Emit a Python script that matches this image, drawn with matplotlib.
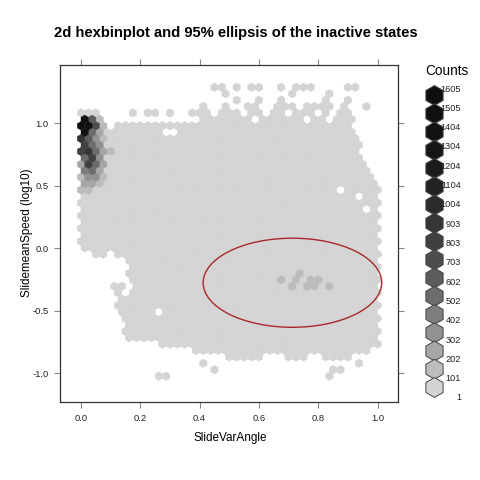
import matplotlib
matplotlib.use('Agg')
import matplotlib.pyplot as plt
import numpy as np
from matplotlib.collections import PolyCollection
from matplotlib.patches import Ellipse

plt.rcParams['font.family'] = ['Liberation Sans', 'DejaVu Sans']

# ---------------- data ----------------
count_breaks = [1, 101, 202, 302, 402, 502, 602, 703, 803, 903,
                1004, 1104, 1204, 1304, 1404, 1505, 1605]

# occupied hex cells, per hex row (top row first): runs of column indices
row_runs = [
    [(18, 19), (21, 21), (23, 24), (27, 27), (29, 31), (36, 37)],
    [(19, 19), (28, 28), (33, 33)],
    [(21, 21), (24, 24), (27, 27), (33, 33), (36, 36)],
    [(16, 16), (19, 19), (22, 23), (26, 28), (30, 33), (35, 35), (38, 38)],
    [(0, 2), (7, 7), (9, 10), (12, 12), (15, 17), (19, 21), (23, 24), (26, 27), (29, 31), (33, 33), (35, 36)],
    [(0, 2), (16, 22), (24, 29), (31, 32), (34, 36)],
    [(0, 3), (5, 36)],
    [(0, 10), (13, 36)],
    [(0, 37)],
    [(0, 37)],
    [(0, 37)],
    [(0, 37)],
    [(0, 38)],
    [(0, 38)],
    [(0, 39)],
    [(0, 39)],
    [(0, 34), (36, 40)],
    [(0, 36), (38, 39)],
    [(0, 40)],
    [(0, 37), (39, 39)],
    [(0, 40)],
    [(0, 39)],
    [(0, 40)],
    [(0, 39)],
    [(0, 40)],
    [(0, 39)],
    [(2, 3), (5, 40)],
    [(6, 39)],
    [(7, 40)],
    [(6, 39)],
    [(7, 40)],
    [(4, 5), (7, 39)],
    [(5, 5), (7, 40)],
    [(5, 39)],
    [(5, 40)],
    [(5, 9), (11, 39)],
    [(6, 40)],
    [(6, 39)],
    [(6, 40)],
    [(6, 39)],
    [(11, 40)],
    [(15, 38)],
    [(20, 24), (28, 30), (33, 36)],
    [(16, 16), (37, 37)],
    [(18, 18), (34, 35)],
    [(10, 11), (33, 33)],
]

# cells with higher counts: (row, column, legend level 1..17)
dense_cells = [
    (5, 0, 17), (5, 1, 7), (5, 2, 2),
    (6, 0, 17), (6, 1, 16), (6, 2, 8), (6, 3, 2),
    (7, 0, 15), (7, 1, 6), (7, 2, 3),
    (8, 0, 10), (8, 1, 7), (8, 2, 4), (8, 3, 2),
    (9, 0, 9), (9, 1, 6), (9, 2, 4),
    (10, 0, 9), (10, 1, 10), (10, 2, 6), (10, 3, 3), (10, 4, 2),
    (11, 0, 6), (11, 1, 9), (11, 2, 4),
    (12, 0, 3), (12, 1, 9), (12, 2, 6), (12, 3, 3),
    (13, 0, 5), (13, 1, 6), (13, 2, 3),
    (14, 0, 2), (14, 1, 4), (14, 2, 4), (14, 3, 2),
    (15, 0, 3), (15, 1, 3), (15, 2, 2),
    (16, 0, 2), (16, 1, 2),
    (29, 29, 2), (30, 27, 2), (30, 29, 2), (30, 31, 2), (30, 32, 2),
    (31, 28, 2), (31, 30, 2), (31, 31, 2), (31, 33, 2),
]

ellipse_center = (0.713, -0.276)
ellipse_size = (0.602, 0.712)

x_ticks = [0.0, 0.2, 0.4, 0.6, 0.8, 1.0]
y_ticks = [-1.0, -0.5, 0.0, 0.5, 1.0]

# ---------------- style / geometry ----------------
W = H = 480
fig = plt.figure(figsize=(4.8, 4.8), dpi=100)
fig.patch.set_facecolor('white')

def fx(px):
    return px / W

def fy(py):
    return 1 - py / H

ax = fig.add_axes([fx(60), fy(402), (398 - 60) / W, (402 - 65) / H])
ax.set_xlim(-0.0708, 1.069)
ax.set_ylim(-1.229, 1.464)

n_levels = len(count_breaks)

def level_color(lv):
    t = (lv - 1) / (n_levels - 1)
    g = 0.06 + 0.77 * (1 - t) ** 2
    return (g, g, g)

# hex grid
dx = 0.025
y_top = 1.286
dy = 0.0513
ry = dy / 1.5

levels = {}
for k, runs in enumerate(row_runs):
    for a, b in runs:
        for i in range(a, b + 1):
            levels[(k, i)] = 1
for k, i, lv in dense_cells:
    levels[(k, i)] = lv

verts = []
cols = []
for (k, i), lv in sorted(levels.items(), key=lambda t: t[1]):
    cx = (i + 0.5 * (k % 2)) * dx
    cy = y_top - k * dy
    verts.append([(cx, cy + ry), (cx + dx / 2, cy + ry / 2), (cx + dx / 2, cy - ry / 2),
                  (cx, cy - ry), (cx - dx / 2, cy - ry / 2), (cx - dx / 2, cy + ry / 2)])
    cols.append(level_color(lv))

pc = PolyCollection(verts, facecolors=cols, edgecolors=cols, linewidths=0.3)
ax.add_collection(pc)

ax.add_patch(Ellipse(ellipse_center, ellipse_size[0], ellipse_size[1],
                     fill=False, edgecolor='#a8282c', linewidth=1.0))

ax.set_xticks(x_ticks)
ax.set_xticklabels([f'{v:.1f}' for v in x_ticks])
ax.set_yticks(y_ticks)
ax.set_yticklabels([f'{v:.1f}' for v in y_ticks])
ax.tick_params(direction='out', length=4.3, width=0.8, color='#888888',
               top=True, right=True, labeltop=False, labelright=False,
               labelsize=6.8, labelcolor='#222222', pad=4.0)
for s in ax.spines.values():
    s.set_color('#333333')
    s.set_linewidth(0.9)

fig.text(fx(236), fy(33), '2d hexbinplot and 95% ellipsis of the inactive states',
         ha='center', va='center', fontsize=10.6, fontweight='bold')
fig.text(fx(230), fy(438), 'SlideVarAngle', ha='center', va='center', fontsize=8.5)
fig.text(fx(27), fy(233), 'SlidemeanSpeed (log10)', ha='center', va='center',
         fontsize=8.4, rotation=90)

# legend
lax = fig.add_axes([0, 0, 1, 1])
lax.set_xlim(0, W)
lax.set_ylim(H, 0)
lax.axis('off')
lax.patch.set_visible(False)

fig.text(fx(446.5), fy(71), 'Counts', ha='center', va='center', fontsize=9.8)
hw = 8.6
hr = hw * 2 / np.sqrt(3)
top_c, bot_c = 95.5, 387.5
lab_top, lab_bot = 89.0, 398.0
leg_verts = []
leg_cols = []
for j, lab in enumerate(reversed(count_breaks)):
    lv = n_levels - j
    cy = top_c + j * (bot_c - top_c) / (n_levels - 1)
    cx = 434.5
    leg_verts.append([(cx, cy - hr), (cx + hw, cy - hr / 2), (cx + hw, cy + hr / 2),
                      (cx, cy + hr), (cx - hw, cy + hr / 2), (cx - hw, cy - hr / 2)])
    leg_cols.append(level_color(lv))
    ly = lab_top + j * (lab_bot - lab_top) / (n_levels - 1)
    fig.text(fx(461), fy(ly), str(lab), ha='right', va='center', fontsize=6.6,
             color='#222222')
lax.add_collection(PolyCollection(leg_verts, facecolors=leg_cols,
                                  edgecolors='#444444', linewidths=0.7))

fig.savefig('out.png', dpi=100)
